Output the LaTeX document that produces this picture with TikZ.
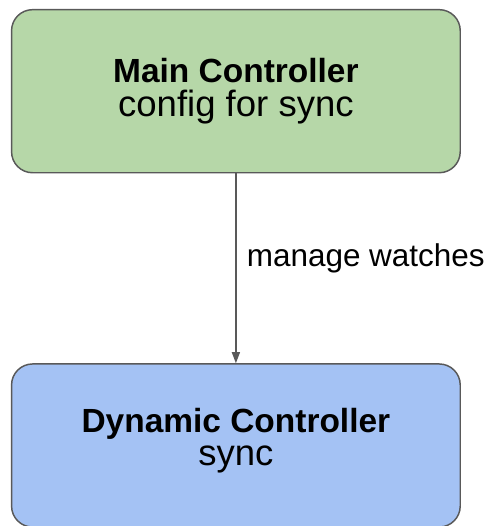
\documentclass[tikz,border=0pt]{standalone}
\usepackage{fontspec}
\setmainfont{Liberation Sans}
\usetikzlibrary{arrows.meta}

\definecolor{mainfill}{HTML}{B6D7A8}
\definecolor{dynfill}{HTML}{A4C2F4}
\definecolor{edgegray}{HTML}{595959}

\begin{document}
\begin{tikzpicture}[x=0.75pt, y=-0.75pt,
  ctrlbox/.style={draw=edgegray, line width=1.1pt, rounded corners=15.75pt,
    minimum width=336.5pt, minimum height=122.3pt, inner sep=0pt,
    align=center, font=\fontsize{25}{25}\selectfont},
  titletext/.style={},
  flow/.style={draw=edgegray, line width=1pt,
    -{Triangle[width=6pt, length=8.25pt]}},
  flowlabel/.style={font=\fontsize{23.6}{25}\selectfont, inner sep=0pt}]

  \useasboundingbox (0,0) rectangle (491,526);

  % controller boxes
  \node[ctrlbox, fill=mainfill] (main) at (235.9, 91.2)
    {{\bfseries\fontsize{25.1}{25}\selectfont Main Controller}\\
     {\fontsize{27.4}{25}\selectfont config for sync}};
  \node[ctrlbox, fill=dynfill, text depth=13pt] (dyn) at (235.9, 445.5)
    {{\bfseries\fontsize{25.1}{25}\selectfont Dynamic Controller}\\
     {\fontsize{27.4}{25}\selectfont sync}};

  % watch management link
  \draw[flow] (main.south) -- node[flowlabel, pos=0.447, anchor=west, xshift=7.7pt]
    {manage watches} (dyn.north);
\end{tikzpicture}
\end{document}
